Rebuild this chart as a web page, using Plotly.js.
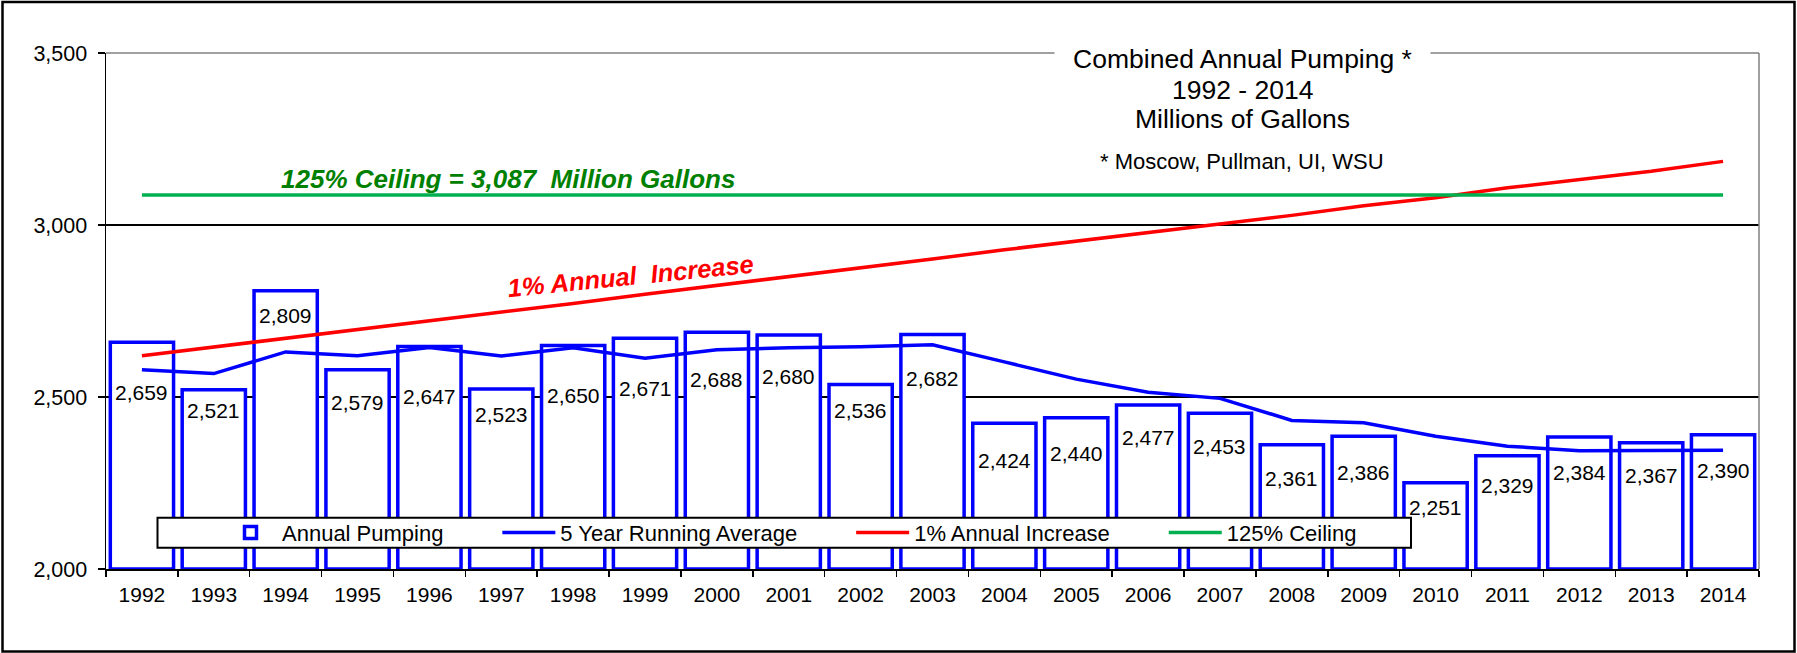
<!DOCTYPE html>
<html>
<head>
<meta charset="utf-8">
<script src="https://cdn.plot.ly/plotly-3.0.1.min.js"></script>
<style>html,body{margin:0;padding:0;background:#fff;}</style>
</head>
<body>
<div id="chart" style="width:1797px;height:653px;"></div>
<script>
// ---- data ----
const years = ['1992','1993','1994','1995','1996','1997','1998','1999','2000','2001','2002','2003',
               '2004','2005','2006','2007','2008','2009','2010','2011','2012','2013','2014'];
const annualPumping = [2659,2521,2809,2579,2647,2523,2650,2671,2688,2680,2536,2682,
                       2424,2440,2477,2453,2361,2386,2251,2329,2384,2367,2390];
const runningAverage = [2579,2568,2631,2620,2644,2619,2643,2613,2637,2643,2646,2652,
                        2602,2552,2514,2496,2432,2425,2386,2357,2344,2344,2345];
const annualIncrease = [2620,2645,2672,2696,2721,2747,2772,2799,2824,2851,2876,2901,
                        2928,2953,2979,3004,3028,3056,3079,3108,3131,3156,3185];
const ceiling = [3087,3087,3087,3087,3087,3087,3087,3087,3087,3087,3087,3087,
                 3087,3087,3087,3087,3087,3087,3087,3087,3087,3087,3087];
const seriesNames = ['Annual Pumping','5 Year Running Average','1% Annual Increase','125% Ceiling'];
const yTicks = [2000,2500,3000,3500];

// ---- label placement (pixels below each bar top) ----
const labelDrop = [50,21,25,33,50,25,50,50,47,41,26,44,37,36,33,33,34,36,25,30,36,33,36];

const FONT = 'Liberation Sans, Arial, Helvetica, sans-serif';
const W = 1797, H = 653;
const M = {l:106, r:38, t:53, b:84};
const PW = W - M.l - M.r, PH = H - M.t - M.b;
const px = x => (x - M.l) / PW;
const py = y => (H - M.b - y) / PH;
const base = yTicks[0];
const nb = '\u00A0';
const pad = nb.repeat(8);

const traces = [
  {
    type:'bar', name: seriesNames[0] + pad, x: years,
    y: annualPumping.map(v => v - base), base: base,
    customdata: annualPumping, hovertemplate:'%{x}: %{customdata:,}<extra></extra>',
    marker:{color:'#ffffff', line:{color:'#0000ff', width:3.5}}
  },
  {
    type:'scatter', mode:'lines', name: seriesNames[1] + pad, x: years, y: runningAverage,
    line:{color:'#0000ff', width:3.5}
  },
  {
    type:'scatter', mode:'lines', name: seriesNames[2] + pad, x: years, y: annualIncrease,
    line:{color:'#ff0000', width:3.5}
  },
  {
    type:'scatter', mode:'lines', name: seriesNames[3], x: years, y: ceiling,
    line:{color:'#00b050', width:3.5}
  }
];

// data labels: x given as category index so numeric-looking years are not read as positions
const annotations = annualPumping.map((v, i) => ({
  x: i, y: v, xref:'x', yref:'y', yshift: -labelDrop[i],
  text: v.toLocaleString('en-US'), showarrow:false,
  font:{family:FONT, size:21, color:'#000'}, xanchor:'center', yanchor:'middle'
}));

annotations.push(
  {xref:'paper', yref:'paper', x:px(1242), y:py(59), text:'Combined Annual Pumping *',
   showarrow:false, bgcolor:'#ffffff', width:371, borderpad:2,
   font:{family:FONT, size:26.5, color:'#000'}, xanchor:'center', yanchor:'middle'},
  {xref:'paper', yref:'paper', x:px(1242), y:py(89.5), text:'1992 - 2014',
   showarrow:false, font:{family:FONT, size:26.5, color:'#000'}, xanchor:'center', yanchor:'middle'},
  {xref:'paper', yref:'paper', x:px(1242), y:py(118.5), text:'Millions of Gallons',
   showarrow:false, font:{family:FONT, size:26.5, color:'#000'}, xanchor:'center', yanchor:'middle'},
  {xref:'paper', yref:'paper', x:px(1242), y:py(161.7), text:'* Moscow, Pullman, UI, WSU',
   showarrow:false, font:{family:FONT, size:22, color:'#000'}, xanchor:'center', yanchor:'middle'},
  {xref:'paper', yref:'paper', x:px(507.5), y:py(178.8),
   text:'125% Ceiling = 3,087' + nb + nb + 'Million Gallons',
   showarrow:false, font:{family:FONT, size:26, color:'#008000', weight:'bold', style:'italic'},
   xanchor:'center', yanchor:'middle'},
  {xref:'paper', yref:'paper', x:px(630), y:py(275.5), textangle:-5.7,
   text:'1% Annual' + nb + nb + 'Increase',
   showarrow:false, font:{family:FONT, size:25.5, color:'#ff0000', weight:'bold', style:'italic'},
   xanchor:'center', yanchor:'middle'}
);

const shapes = [
  // outer chart border
  {type:'rect', xref:'paper', yref:'paper', x0:px(2.5), x1:px(1794.5), y0:py(651.5), y1:py(2),
   line:{color:'#000', width:2.5}, fillcolor:'rgba(0,0,0,0)', layer:'above'},
  // plot-area border (top and right, grey)
  {type:'line', xref:'paper', yref:'paper', x0:0, x1:1, y0:1, y1:1,
   line:{color:'#808080', width:1.5}, layer:'above'},
  {type:'line', xref:'paper', yref:'paper', x0:1, x1:1, y0:0, y1:1,
   line:{color:'#808080', width:1.5}, layer:'above'},
  // legend frame
  {type:'rect', xref:'paper', yref:'paper', x0:px(157.5), x1:px(1411), y0:py(547.7), y1:py(517.7),
   line:{color:'#000', width:2}, fillcolor:'#ffffff', layer:'above'}
];

const layout = {
  width:W, height:H, margin:M,
  paper_bgcolor:'#ffffff', plot_bgcolor:'#ffffff',
  font:{family:FONT, size:21, color:'#000'},
  bargap:0.12, showlegend:true,
  legend:{orientation:'h', x:px(219), xanchor:'left', y:py(532.7), yanchor:'middle',
          bgcolor:'rgba(0,0,0,0)', borderwidth:0, itemwidth:53,
          font:{family:FONT, size:22, color:'#000'}, traceorder:'normal'},
  xaxis:{type:'category', range:[-0.5, years.length - 0.5], tickson:'boundaries',
         ticks:'outside', ticklen:6, tickwidth:1.5, tickcolor:'#000',
         showline:true, linecolor:'#000', linewidth:1.5, showgrid:false, zeroline:false,
         tickfont:{family:FONT, size:21, color:'#000'}, ticklabelstandoff:6, fixedrange:true},
  yaxis:{range:[yTicks[0], yTicks[yTicks.length-1]], tickvals:yTicks,
         ticktext:yTicks.map(v => v.toLocaleString('en-US')),
         showgrid:true, gridcolor:'#000', gridwidth:1.3,
         showline:true, linecolor:'#000', linewidth:1.5, zeroline:false,
         ticks:'outside', ticklen:7, tickwidth:1.5, tickcolor:'#000',
         tickfont:{family:FONT, size:21.5, color:'#000'}, ticklabelstandoff:6, fixedrange:true},
  annotations: annotations,
  shapes: shapes
};

Plotly.newPlot('chart', traces, layout, {displayModeBar:false, staticPlot:true});
</script>
</body>
</html>
